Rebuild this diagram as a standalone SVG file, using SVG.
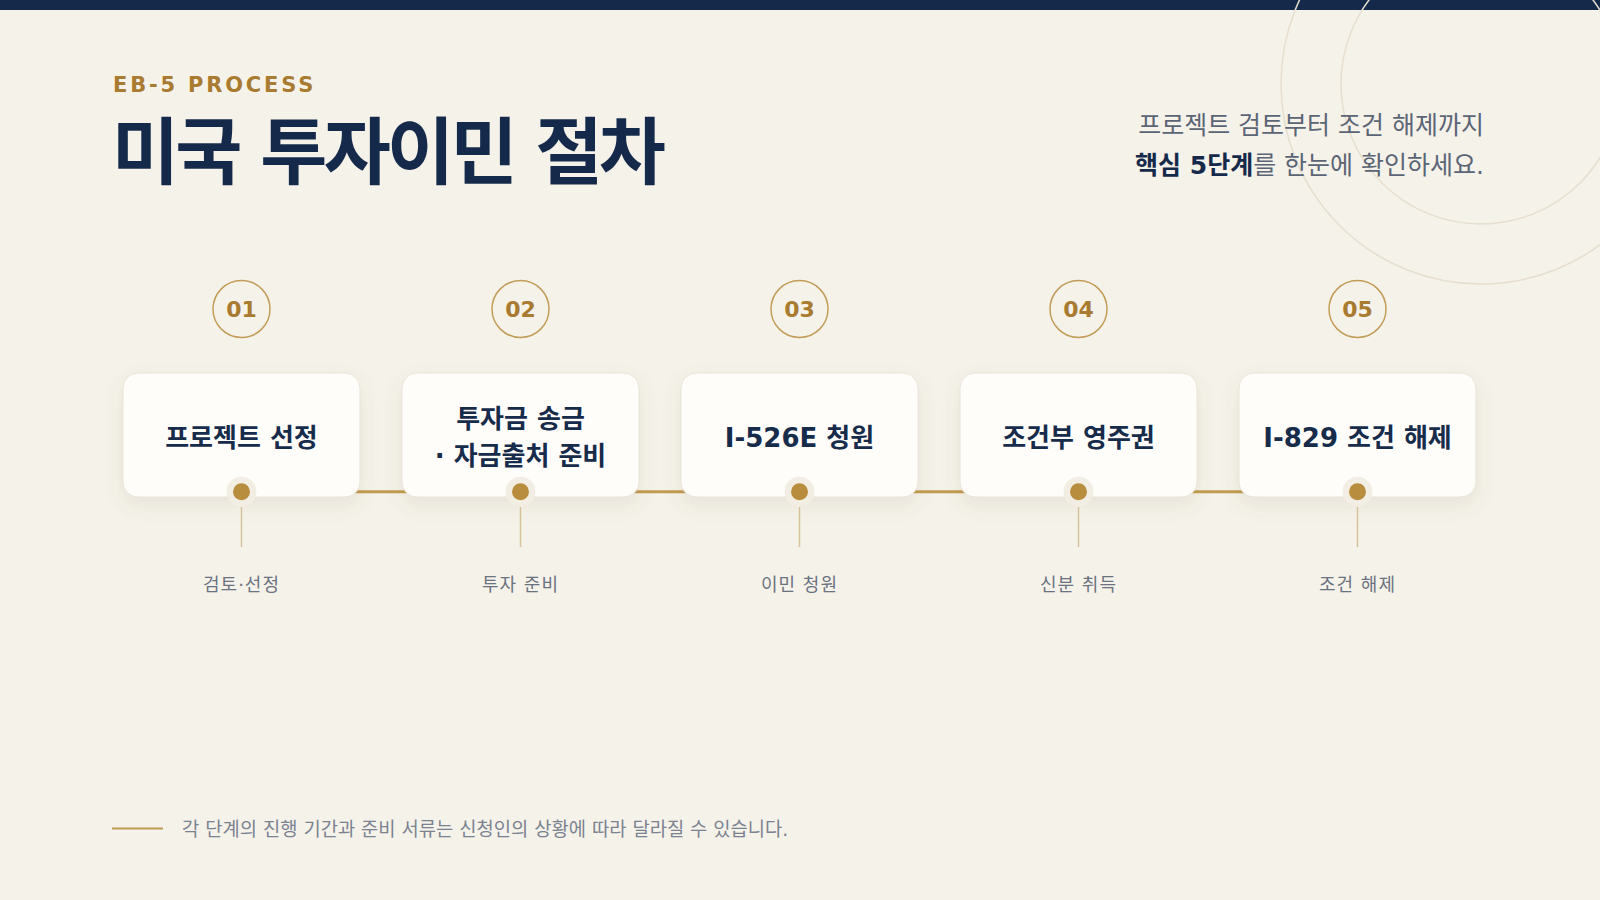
<svg xmlns="http://www.w3.org/2000/svg" width="1600" height="900" viewBox="0 0 1600 900">
<defs>
<style>
.sans{font-family:"DejaVu Sans","Noto Sans CJK KR",sans-serif}
.num{font-family:"DejaVu Sans","Noto Sans CJK KR",sans-serif;font-size:22px;font-weight:700;fill:#a87b30;text-anchor:middle}
.ring{fill:none;stroke:#c29d58;stroke-width:1.5}
.card{fill:#fefdfa;stroke:#e8e3d7;stroke-width:1}
.ctext{font-family:"DejaVu Sans","Noto Sans CJK KR",sans-serif;font-size:26px;font-weight:700;fill:#172b4b;text-anchor:middle}
.halo{fill:#f2eee4}
.dot{fill:#b88d3e}
.stem{stroke:#d6c498;stroke-width:1.5}
.lbl{font-family:"DejaVu Sans","Noto Sans CJK KR",sans-serif;font-size:18px;fill:#6b7280;text-anchor:middle;letter-spacing:1px}
.deco{fill:none;stroke:#e6dfcf;stroke-width:1.5}
</style>
<filter id="sh" x="-20%" y="-20%" width="140%" height="160%">
<feDropShadow dx="0" dy="8" stdDeviation="9" flood-color="#6b5a38" flood-opacity="0.10"/>
</filter>
</defs>
<rect x="0" y="0" width="1600" height="900" fill="#f5f2ea"/>
<rect x="0" y="0" width="1600" height="10" fill="#152a4a"/>
<g id="decor">
<circle class="deco" cx="1481" cy="84" r="200"/>
<circle class="deco" cx="1481" cy="84" r="140"/>
</g>
<g id="header">
<text class="sans" x="113" y="92" font-size="21" font-weight="700" fill="#a87b30" letter-spacing="2.8">EB-5 PROCESS</text>
<text class="sans" x="112" y="178" font-size="73" font-weight="700" fill="#152a4a" letter-spacing="-3.8">미국 투자이민 절차</text>
<text class="sans" x="1484" y="134" font-size="25" fill="#5b6576" text-anchor="end">프로젝트 검토부터 조건 해제까지</text>
<text class="sans" x="1484" y="174" font-size="25" fill="#5b6576" text-anchor="end"><tspan font-weight="700" fill="#152a4a">핵심 5단계</tspan>를 한눈에 확인하세요.</text>
</g>
<g id="connectors">
<line x1="241.5" y1="491.7" x2="1357.5" y2="491.7" stroke="#c29b52" stroke-width="3"/>
</g>
<g id="step1">
<circle class="ring" cx="241.5" cy="309" r="28.5"/>
<text class="num" x="241.5" y="316.7">01</text>
<rect class="card" filter="url(#sh)" x="123" y="373" width="237" height="124" rx="15"/>
<text class="ctext" x="241.5" y="447">프로젝트 선정</text>
<circle class="halo" cx="241.5" cy="491.7" r="15"/>
<circle class="dot" cx="241.5" cy="491.7" r="8.5"/>
<line class="stem" x1="241.5" y1="507" x2="241.5" y2="547"/>
<text class="lbl" x="241.5" y="591">검토·선정</text>
</g>
<g id="step2">
<circle class="ring" cx="520.5" cy="309" r="28.5"/>
<text class="num" x="520.5" y="316.7">02</text>
<rect class="card" filter="url(#sh)" x="402" y="373" width="237" height="124" rx="15"/>
<text class="ctext" x="520.5" y="428">투자금 송금</text>
<text class="ctext" x="520.5" y="465">· 자금출처 준비</text>
<circle class="halo" cx="520.5" cy="491.7" r="15"/>
<circle class="dot" cx="520.5" cy="491.7" r="8.5"/>
<line class="stem" x1="520.5" y1="507" x2="520.5" y2="547"/>
<text class="lbl" x="520.5" y="591">투자 준비</text>
</g>
<g id="step3">
<circle class="ring" cx="799.5" cy="309" r="28.5"/>
<text class="num" x="799.5" y="316.7">03</text>
<rect class="card" filter="url(#sh)" x="681" y="373" width="237" height="124" rx="15"/>
<text class="ctext" x="799.5" y="447">I-526E 청원</text>
<circle class="halo" cx="799.5" cy="491.7" r="15"/>
<circle class="dot" cx="799.5" cy="491.7" r="8.5"/>
<line class="stem" x1="799.5" y1="507" x2="799.5" y2="547"/>
<text class="lbl" x="799.5" y="591">이민 청원</text>
</g>
<g id="step4">
<circle class="ring" cx="1078.5" cy="309" r="28.5"/>
<text class="num" x="1078.5" y="316.7">04</text>
<rect class="card" filter="url(#sh)" x="960" y="373" width="237" height="124" rx="15"/>
<text class="ctext" x="1078.5" y="447">조건부 영주권</text>
<circle class="halo" cx="1078.5" cy="491.7" r="15"/>
<circle class="dot" cx="1078.5" cy="491.7" r="8.5"/>
<line class="stem" x1="1078.5" y1="507" x2="1078.5" y2="547"/>
<text class="lbl" x="1078.5" y="591">신분 취득</text>
</g>
<g id="step5">
<circle class="ring" cx="1357.5" cy="309" r="28.5"/>
<text class="num" x="1357.5" y="316.7">05</text>
<rect class="card" filter="url(#sh)" x="1239" y="373" width="237" height="124" rx="15"/>
<text class="ctext" x="1357.5" y="447">I-829 조건 해제</text>
<circle class="halo" cx="1357.5" cy="491.7" r="15"/>
<circle class="dot" cx="1357.5" cy="491.7" r="8.5"/>
<line class="stem" x1="1357.5" y1="507" x2="1357.5" y2="547"/>
<text class="lbl" x="1357.5" y="591">조건 해제</text>
</g>
<g id="footer">
<line x1="112" y1="828.5" x2="163" y2="828.5" stroke="#bf9a55" stroke-width="2"/>
<text class="sans" x="182" y="836" font-size="18.75" fill="#7b8290">각 단계의 진행 기간과 준비 서류는 신청인의 상황에 따라 달라질 수 있습니다.</text>
</g>
</svg>
